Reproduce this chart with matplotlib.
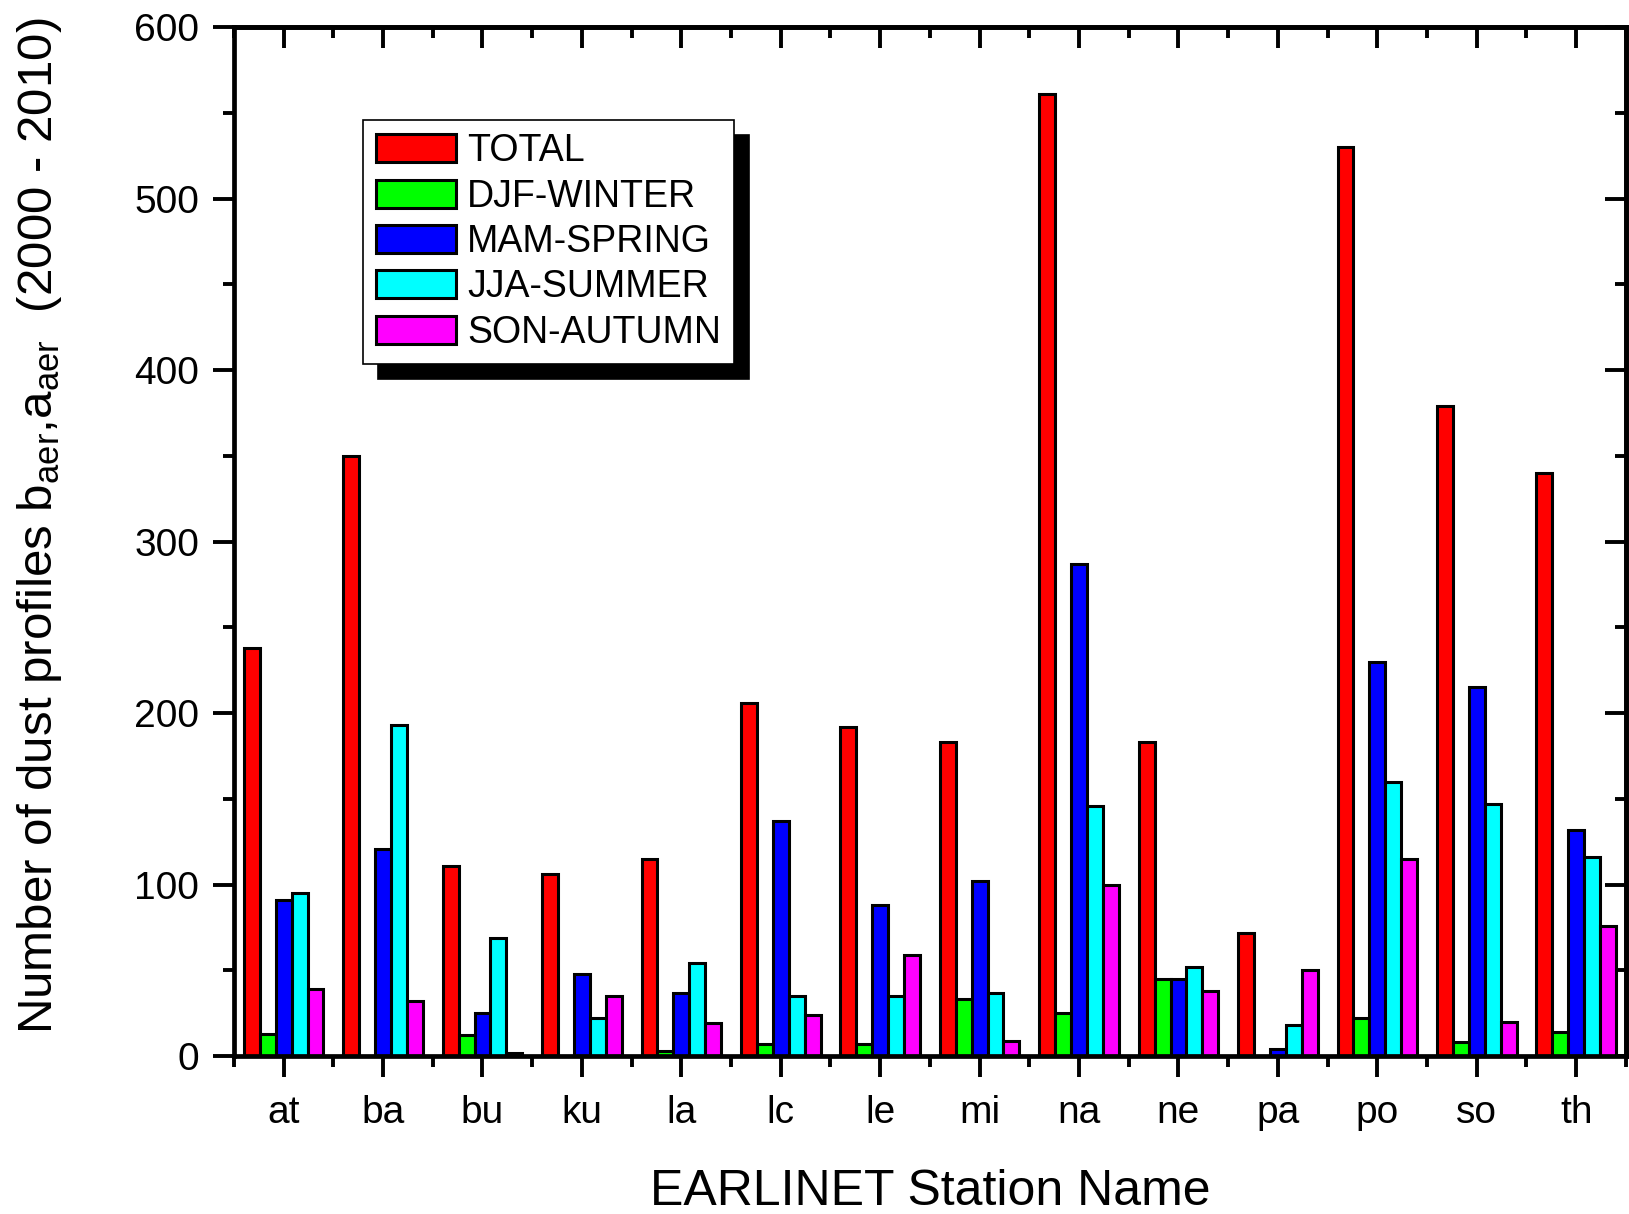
import numpy as np
import matplotlib
matplotlib.use('Agg')
import matplotlib.pyplot as plt
from matplotlib.ticker import MultipleLocator, FixedLocator

plt.rcParams['font.family'] = ['Liberation Sans', 'DejaVu Sans']
plt.rcParams['mathtext.fontset'] = 'custom'
plt.rcParams['mathtext.rm'] = 'Liberation Sans'
plt.rcParams['mathtext.it'] = 'Liberation Sans:italic'

stations = ['at', 'ba', 'bu', 'ku', 'la', 'lc', 'le', 'mi', 'na', 'ne', 'pa', 'po', 'so', 'th']
total  = [238, 350, 111, 106, 115, 206, 192, 183, 561, 183, 72, 530, 379, 340]
winter = [13, 0, 12, 0, 3, 7, 7, 33, 25, 45, 0, 22, 8, 14]
spring = [91, 121, 25, 48, 37, 137, 88, 102, 287, 45, 4, 230, 215, 132]
summer = [95, 193, 69, 22, 54, 35, 35, 37, 146, 52, 18, 160, 147, 116]
autumn = [39, 32, 2, 35, 19, 24, 59, 9, 100, 38, 50, 115, 20, 76]

series = [('TOTAL', total, '#ff0000'),
          ('DJF-WINTER', winter, '#00ff00'),
          ('MAM-SPRING', spring, '#0000ff'),
          ('JJA-SUMMER', summer, '#00ffff'),
          ('SON-AUTUMN', autumn, '#ff00ff')]

fig = plt.figure(figsize=(16.29, 12.14), dpi=100)
ax = fig.add_axes([0.1436, 0.1301, 0.8545, 0.8476])

x = np.arange(len(stations))
w = 0.16
for i, (name, vals, col) in enumerate(series):
    ax.bar(x + (i - 2) * w, vals, width=w, color=col, edgecolor='black',
           linewidth=2.2, label=name)

ax.set_xlim(-0.5, len(stations) - 0.5)
ax.set_ylim(0, 600)
ax.set_xticks(x)
ax.set_xticklabels(stations)
ax.xaxis.set_minor_locator(FixedLocator(np.arange(-0.5, len(stations), 1)))
ax.yaxis.set_major_locator(MultipleLocator(100))
ax.yaxis.set_minor_locator(MultipleLocator(50))

for s in ax.spines.values():
    s.set_linewidth(3.4)

ax.tick_params(which='both', direction='out', width=2.8, labelsize=28)
ax.tick_params(which='major', length=15)
ax.tick_params(which='minor', length=8)
ax.tick_params(axis='y', pad=10)
ax.tick_params(axis='x', pad=13, labelsize=28)

# inward ticks on the top and right
top = ax.secondary_xaxis('top')
top.set_xticks(x)
top.xaxis.set_minor_locator(FixedLocator(np.arange(-0.5, len(stations), 1)))
top.tick_params(which='both', direction='in', width=2.8, labeltop=False)
top.tick_params(which='major', length=15)
top.tick_params(which='minor', length=8)
top.spines['top'].set_linewidth(3.4)

right = ax.secondary_yaxis('right')
right.yaxis.set_major_locator(MultipleLocator(100))
right.yaxis.set_minor_locator(MultipleLocator(50))
right.tick_params(which='both', direction='in', width=2.8, labelright=False)
right.tick_params(which='major', length=15)
right.tick_params(which='minor', length=8)
right.spines['right'].set_linewidth(3.4)

ax.set_xlabel('EARLINET Station Name', fontsize=36)
ax.xaxis.set_label_coords(0.5, -0.11)
ax.set_ylabel(r'Number of dust profiles b$_{\mathrm{aer}}$,a$_{\mathrm{aer}}$  (2000 - 2010)',
              fontsize=35.5)
ax.yaxis.set_label_coords(-0.122, 0.515)

leg = ax.legend(loc='upper left', bbox_to_anchor=(0.0927, 0.9095), borderaxespad=0,
                fontsize=27, handlelength=2.13, handleheight=0.78, handletextpad=0.3,
                labelspacing=0.25, borderpad=0.35, fancybox=False,
                shadow={'ox': 11, 'oy': -11, 'color': 'black', 'alpha': 1})
leg.get_frame().set_edgecolor('black')
leg.get_frame().set_linewidth(1.2)

fig.savefig('out.png', dpi=100)
